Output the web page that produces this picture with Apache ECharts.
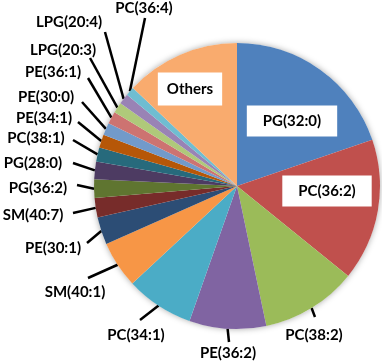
<!DOCTYPE html>
<html>
<head>
<meta charset="utf-8">
<script src="https://cdn.jsdelivr.net/npm/echarts@6/dist/echarts.min.js"></script>
<style>
html,body{margin:0;padding:0;background:#fff;}
#chart{width:382px;height:364px;}
</style>
</head>
<body>
<div id="chart"></div>
<script>
// Data (percent shares, clockwise from 12 o'clock)
const categories = ["PG(32:0)","PC(36:2)","PC(38:2)","PE(36:2)","PC(34:1)","SM(40:1)","PE(30:1)","SM(40:7)","PG(36:2)","PG(28:0)","PC(38:1)","PE(34:1)","PE(30:0)","PE(36:1)","LPG(20:3)","LPG(20:4)","PC(36:4)","Others"];
const values = [19.8,16.1,10.9,8.7,7.7,5.3,3.1,2.2,2.1,2.0,1.6,1.5,1.4,1.4,1.2,1.2,1.0,13.0];
const insideLabels = ["PG(32:0)","PC(36:2)","Others"];

// Styles / layout (kept separate from data)
const colors = ["#4F81BD","#C0504D","#9BBB59","#8064A2","#4BACC6","#F79646","#2C4D75","#772C2A","#5F7530","#4D3B62","#276A7C","#B65708","#729ACA","#CD7371","#AFC97A","#9983B5","#6FBDD1","#F9AB6E"];
// label centre [x,y] and outer end of leader line [x,y]
const labelPlace = [
  [292,121,null,null],[327,191,null,null],[314,335,315,317],[228,353,229,342],
  [136,335,140,320],[75,292,88,278],[53,248,87,243],[33,215,73,213],
  [38,188,77,185],[33,163,73,163],[36,138,73,140],[44,118,78,122],
  [46,97,82,102],[53,72,88,78],[63,50,90,58],[69,22,105,32],[144,8,145,18],[190,89,null,null]
];
const CX = 237, CY = 186, R = 143;

const chart = echarts.init(document.getElementById('chart'), null, {renderer:'canvas'});
const data = categories.map((c,i)=>{
  const inside = insideLabels.indexOf(c) >= 0;
  const d = {name:c, value:values[i], itemStyle:{color:colors[i]}};
  if (inside) {
    d.label = {backgroundColor:'#fff', padding: c==='Others'?[9,9]:[8,16]};
    d.labelLine = {show:false};
  }
  return d;
});

chart.setOption({
  animation:false,
  series:[
    {
      type:'pie', silent:true, center:[CX,CY], radius:R, z:1,
      data:[{value:1}], label:{show:false}, labelLine:{show:false},
      itemStyle:{color:'#fff', shadowBlur:6, shadowColor:'rgba(0,0,0,0.35)'}
    },
    {
      type:'pie', center:[CX,CY], radius:R, startAngle:90, clockwise:true, z:2,
      avoidLabelOverlap:false,
      itemStyle:{borderWidth:0},
      label:{show:true, position:'outside', formatter:'{b}', color:'#000',
             fontFamily:'Lato', fontWeight:'bold', fontSize:15},
      labelLine:{show:true, length:10, length2:0, smooth:false,
                 lineStyle:{color:'#000', width:2.5}},
      labelLayout:function(p){
        const pl = labelPlace[p.dataIndex];
        const out = {x:pl[0], y:pl[1], align:'center', verticalAlign:'middle'};
        if (pl[2] !== null && p.labelLinePoints) {
          const s = p.labelLinePoints[0];
          out.labelLinePoints = [[s[0],s[1]],[pl[2],pl[3]],[pl[2],pl[3]]];
        }
        return out;
      },
      data:data
    }
  ]
});
</script>
</body>
</html>
